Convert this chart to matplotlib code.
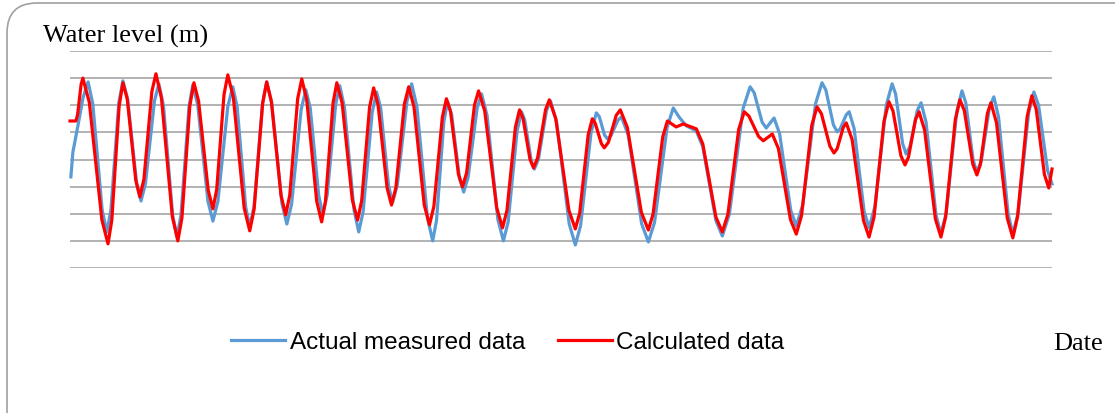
import matplotlib
matplotlib.use("Agg")
import matplotlib.pyplot as plt
from matplotlib.patches import FancyBboxPatch
from matplotlib.transforms import IdentityTransform

# time (hours) and water level (turning points + points on the slopes)
actual_t = [0.3, 1.0, 2.7, 4.5, 6.2, 7.8, 11.0, 12.6, 14.0, 16.7, 18.1, 19.7, 22.8, 24.3,
            25.8, 28.9, 30.4, 32.0, 35.1, 36.6, 38.0, 40.7, 42.0, 43.7, 47.2, 48.9,
            50.6, 54.0, 55.7, 57.2, 60.1, 61.5, 63.0, 65.9, 67.3, 69.0, 72.5, 74.2,
            75.8, 79.1, 80.7, 82.2, 85.1, 86.5, 88.0, 90.9, 92.3, 93.9, 97.2, 98.8,
            100.3, 103.4, 104.9, 106.3, 109.0, 110.4, 112.0, 115.3, 116.9, 118.7,
            122.3, 124.1, 125.4, 127.9, 129.2, 130.6, 133.3, 134.7, 136.2, 139.3,
            140.8, 142.7, 146.4, 148.3, 149.9, 153.0, 154.5, 155.6, 157.8, 158.9,
            160.3, 163.0, 164.4, 166.5, 170.8, 172.9, 174.7, 178.3, 180.1, 181.1,
            182.9, 183.9, 185.1, 187.5, 188.7, 191.0, 195.6, 197.9, 200.0, 204.3,
            206.4, 208.5, 210.9, 214.3, 216.5, 221.0, 223.2, 225.6, 230.3, 232.7,
            234.1, 236.8, 238.2, 240.9, 242.8, 246.6, 248.5, 250.7, 255.1, 257.3,
            258.6, 261.2, 262.5, 263.5, 265.6, 266.6, 268.3, 271.7, 273.4, 275.4,
            279.3, 281.3, 282.5, 284.9, 286.1, 287.4, 289.9, 291.2, 292.9, 296.3,
            298.0, 299.8, 303.4, 305.2, 306.5, 309.0, 310.3, 311.8, 314.6, 316.1,
            317.7, 321.0, 322.6, 324.4, 328.0, 329.8, 331.4, 334.5, 336.0]
actual_h = [3.36, 4.28, 5.24, 6.30, 6.86, 6.05, 2.14, 1.33, 2.14, 6.09, 6.90, 6.25, 3.12, 2.47,
            3.10, 6.16, 6.79, 5.97, 1.97, 1.15, 1.97, 5.93, 6.75, 6.02, 2.46, 1.73,
            2.45, 5.96, 6.68, 5.93, 2.26, 1.51, 2.29, 6.08, 6.86, 6.09, 2.39, 1.62,
            2.34, 5.85, 6.57, 5.90, 2.67, 2.00, 2.69, 6.03, 6.72, 5.93, 2.12, 1.33,
            2.08, 5.74, 6.49, 5.90, 3.02, 2.43, 3.07, 6.15, 6.79, 5.94,
            1.85, 1.00, 1.75, 5.38, 6.13, 5.64, 3.29, 2.80, 3.33, 5.89,
            6.42, 5.63, 1.79, 1.00, 1.69, 5.07, 5.76, 5.45, 3.96, 3.65,
            4.02, 5.79, 6.16, 5.38, 1.63, 0.85, 1.56, 5.01, 5.72, 5.58,
            4.90, 4.76, 4.88, 5.45, 5.57, 4.90, 1.63, 0.96, 1.68, 5.18,
            5.90, 5.55, 5.24, 5.05, 4.48, 1.75, 1.18, 1.98, 5.88, 6.68,
            6.46, 5.38, 5.16, 5.53, 4.95, 2.13, 1.55, 2.32, 6.06, 6.83,
            6.57, 5.28, 5.02, 5.13, 5.65, 5.76, 5.14, 2.10, 1.48, 2.26,
            6.01, 6.79, 6.41, 4.58, 4.20, 4.48, 5.81, 6.09, 5.38, 1.96,
            1.25, 2.02, 5.76, 6.53, 6.09, 3.98, 3.54, 3.94, 5.91, 6.31,
            5.57, 1.99, 1.25, 2.02, 5.72, 6.49, 6.00, 3.59, 3.10]

calc_t = [0.0, 2.0, 2.6, 3.8, 4.4, 6.6, 10.9, 13.0, 14.3, 16.8, 18.1, 19.6, 22.5, 23.9,
          25.3, 28.0, 29.4, 31.3, 35.0, 36.9, 38.3, 41.0, 42.4, 44.0, 47.3, 48.9,
          50.2, 52.7, 54.0, 55.9, 59.6, 61.5, 63.0, 65.9, 67.3, 68.9, 72.2, 73.8,
          75.2, 77.9, 79.3, 81.0, 84.4, 86.1, 87.4, 90.0, 91.3, 93.1, 96.6, 98.4,
          99.8, 102.5, 103.9, 105.4, 108.5, 110.0, 111.5, 114.4, 115.9, 117.7,
          121.2, 123.0, 124.5, 127.4, 128.8, 130.2, 132.9, 134.3, 135.7, 138.4,
          139.8, 141.9, 146.0, 148.0, 149.5, 152.4, 153.8, 155.0, 157.4, 158.6,
          160.0, 162.7, 164.0, 166.2, 170.7, 172.9, 174.4, 177.3, 178.7, 179.7,
          181.8, 182.8, 184.2, 186.9, 188.3, 190.7, 195.5, 197.9, 199.5, 202.8,
          204.4, 207.4, 209.8, 214.3, 216.5, 221.0, 223.2, 225.1, 228.8, 230.7,
          232.3, 235.6, 237.2, 240.3, 242.4, 246.5, 248.5, 250.3, 253.8, 255.6,
          257.1, 260.0, 261.4, 262.5, 264.6, 265.6, 267.6, 271.5, 273.4, 275.1,
          278.5, 280.2, 281.6, 284.3, 285.7, 286.9, 289.3, 290.5, 292.4, 296.1,
          298.0, 299.6, 302.9, 304.5, 306.0, 308.9, 310.3, 311.5, 313.9, 315.1,
          317.0, 320.7, 322.6, 324.2, 327.5, 329.1, 330.6, 333.4, 334.9, 336.0]
calc_h = [5.42, 5.42, 5.65, 6.77, 7.00, 6.11, 1.78, 0.89, 1.76, 5.96, 6.83, 6.22, 3.24, 2.62,
          3.28, 6.50, 7.16, 6.26, 1.90, 1.00, 1.85, 5.98, 6.83, 6.15, 2.86, 2.18,
          2.90, 6.40, 7.12, 6.28, 2.21, 1.37, 2.17, 6.06, 6.86, 6.14, 2.68, 1.96,
          2.69, 6.24, 6.97, 6.20, 2.47, 1.70, 2.45, 6.08, 6.83, 6.09, 2.51, 1.77,
          2.48, 5.93, 6.64, 6.01, 2.95, 2.32, 2.96, 6.04, 6.68, 5.94,
          2.33, 1.59, 2.27, 5.56, 6.24, 5.77, 3.46, 2.99, 3.51, 6.01,
          6.53, 5.79, 2.22, 1.48, 2.12, 5.19, 5.83, 5.52, 4.00, 3.69,
          4.06, 5.83, 6.20, 5.51, 2.13, 1.44, 2.03, 4.91, 5.50, 5.34,
          4.59, 4.43, 4.63, 5.63, 5.83, 5.18, 2.05, 1.40, 1.99, 4.83,
          5.42, 5.20, 5.31, 5.13, 4.58, 1.88, 1.33, 1.98, 5.11, 5.76,
          5.60, 4.85, 4.69, 4.94, 4.40, 1.79, 1.25, 1.93, 5.26, 5.94,
          5.69, 4.49, 4.24, 4.40, 5.19, 5.35, 4.74, 1.75, 1.14, 1.87,
          5.40, 6.13, 5.79, 4.14, 3.80, 4.09, 5.47, 5.76, 5.09, 1.81,
          1.14, 1.88, 5.46, 6.20, 5.80, 3.83, 3.43, 3.82, 5.70, 6.09,
          5.36, 1.84, 1.11, 1.88, 5.58, 6.35, 5.85, 3.45, 2.95, 3.65]

W, H = 1115, 414
fig = plt.figure(figsize=(W / 100, H / 100), dpi=100)
fig.patch.set_facecolor("white")

# rounded chart frame (pixels), runs off the right and bottom edges
frame = FancyBboxPatch((7, -30), 1140, 440, boxstyle="round,pad=0,rounding_size=30",
                       transform=IdentityTransform(), facecolor="none",
                       edgecolor="#a0a0a0", linewidth=1.2)
fig.patches.append(frame)

ax = fig.add_axes([70 / W, 1 - 269 / H, (1052 - 70) / W, (269 - 52) / H])
ax.set_xlim(0, 336)
ax.set_ylim(0, 8)
for s in ax.spines.values():
    s.set_visible(False)
ax.set_xticks([])
ax.set_yticks(range(0, 9))
ax.tick_params(left=False, labelleft=False)
ax.grid(axis="y", color="#a6a6a6", linewidth=1.2)
ax.set_axisbelow(True)

ax.plot(actual_t, actual_h, color="#5b9bd5", linewidth=2.3,
        solid_joinstyle="round", label="Actual measured data", clip_on=False)
ax.plot(calc_t, calc_h, color="#ff0000", linewidth=2.3,
        solid_joinstyle="round", label="Calculated data", clip_on=False)

leg = fig.legend(loc="center", bbox_to_anchor=(508 / W, 1 - 343 / H), ncol=2,
                 frameon=False, handlelength=2.2, handletextpad=0.2, columnspacing=1.36,
                 prop={"family": "Liberation Sans", "size": 17.5})

fig.text(43 / W, 1 - 36 / H, "Water level (m)", family="Liberation Serif",
         fontsize=19, va="center", ha="left")
fig.text(1053 / W, 1 - 344 / H, "Date", family="Liberation Serif",
         fontsize=19, va="center", ha="left")

fig.savefig("out.png", dpi=100)
